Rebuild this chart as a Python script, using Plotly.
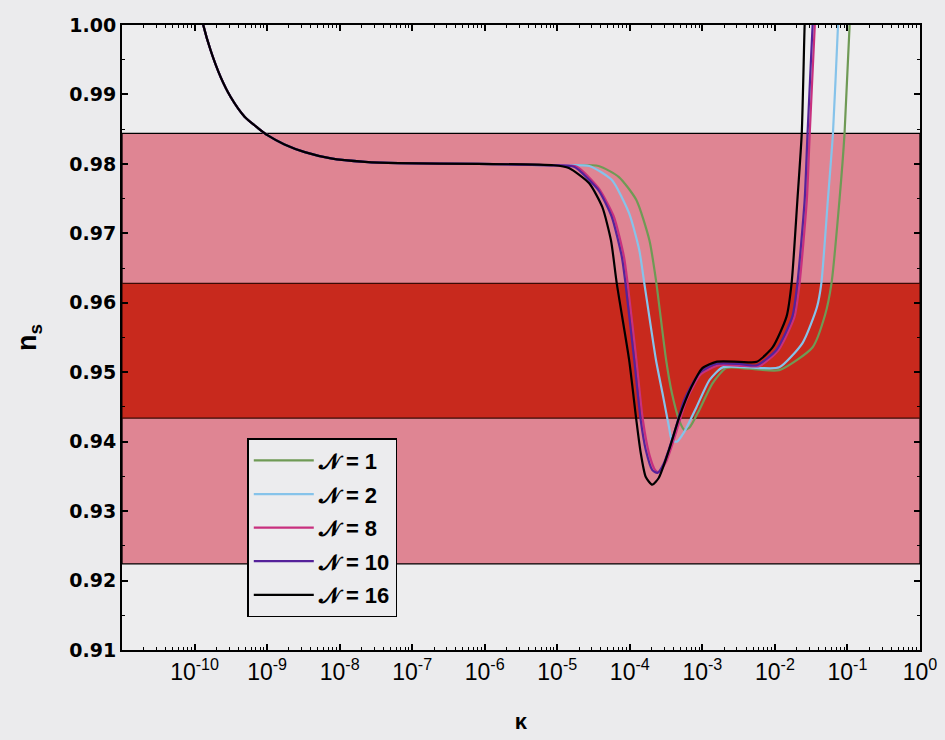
import numpy as np
import plotly.graph_objects as go

# ---- data (log10 kappa, n_s) ----
# common branch (all N coincide here, black is on top)
logk_common = [-9.90, -9.88, -9.78, -9.64, -9.50, -9.31, -9.13, -8.99, -8.76, -8.48, -8.12, -7.65, -7.19, -6.09, -5.05]
ns_common = [1.0010, 1.0000, 0.9964, 0.9925, 0.9896, 0.9868, 0.9852, 0.9841, 0.9828, 0.9817, 0.9808, 0.9803, 0.9801, 0.9800, 0.9798]

logk_N16 = [-4.84, -4.56, -4.38, -4.26, -4.18, -4.01, -3.91, -3.85, -3.78, -3.69, -3.60, -3.46, -3.32, -3.15,
            -3.00, -2.81, -2.49, -2.25, -2.03, -1.84, -1.77, -1.69, -1.63, -1.59, -1.58]
ns_N16 = [0.9794, 0.9772, 0.9738, 0.9690, 0.9628, 0.9518, 0.9431, 0.9384, 0.9349, 0.9338, 0.9348, 0.9388, 0.9435, 0.9479,
          0.9506, 0.9515, 0.9515, 0.9515, 0.9536, 0.9580, 0.9628, 0.9748, 0.9844, 1.0000, 1.0020]

logk_N10 = [-4.77, -4.70, -4.43, -4.25, -4.11, -4.06, -3.94, -3.85, -3.78, -3.69, -3.62, -3.53, -3.39, -3.25,
            -3.04, -2.81, -2.49, -2.25, -1.98, -1.76, -1.69, -1.59, -1.55, -1.48, -1.47]
ns_N10 = [0.9796, 0.9791, 0.9762, 0.9724, 0.9666, 0.9628, 0.9518, 0.9431, 0.9388, 0.9359, 0.9355, 0.9369, 0.9412, 0.9460,
          0.9499, 0.9512, 0.9512, 0.9510, 0.9532, 0.9580, 0.9628, 0.9748, 0.9844, 1.0000, 1.0020]

logk_N8 = [-4.73, -4.43, -4.22, -4.08, -4.03, -3.91, -3.82, -3.73, -3.65, -3.60, -3.50, -3.36, -3.22,
           -3.02, -2.77, -2.42, -2.21, -1.95, -1.73, -1.66, -1.56, -1.52, -1.45, -1.44]
ns_N8 = [0.9796, 0.9765, 0.9724, 0.9666, 0.9628, 0.9518, 0.9431, 0.9381, 0.9359, 0.9356, 0.9371, 0.9414, 0.9460,
         0.9497, 0.9510, 0.9509, 0.9509, 0.9532, 0.9580, 0.9628, 0.9748, 0.9844, 1.0000, 1.0020]

logk_N2 = [-4.56, -4.25, -4.01, -3.87, -3.80, -3.64, -3.55, -3.46, -3.42, -3.35, -3.25, -3.08, -2.90,
           -2.72, -2.21, -1.94, -1.62, -1.42, -1.36, -1.27, -1.20, -1.13, -1.12]
ns_N2 = [0.9797, 0.9777, 0.9729, 0.9676, 0.9628, 0.9518, 0.9470, 0.9421, 0.9402, 0.9400, 0.9414, 0.9450, 0.9489,
         0.9507, 0.9506, 0.9507, 0.9542, 0.9594, 0.9628, 0.9748, 0.9844, 1.0000, 1.0020]

logk_N1 = [-4.43, -4.15, -3.91, -3.73, -3.64, -3.50, -3.42, -3.32, -3.25, -3.18, -3.04, -2.86,
           -2.67, -2.35, -1.94, -1.48, -1.31, -1.22, -1.11, -1.04, -0.97, -0.95]
ns_N1 = [0.9797, 0.9781, 0.9748, 0.9690, 0.9633, 0.9518, 0.9470, 0.9431, 0.9417, 0.9420, 0.9446, 0.9484,
         0.9506, 0.9505, 0.9503, 0.9536, 0.9582, 0.9628, 0.9748, 0.9844, 1.0000, 1.0020]

series_names = ["\U0001D4A9 = 1", "\U0001D4A9 = 2", "\U0001D4A9 = 8", "\U0001D4A9 = 10", "\U0001D4A9 = 16"]
series_logk = [logk_N1, logk_N2, logk_N8, logk_N10, logk_N16]
series_ns = [ns_N1, ns_N2, ns_N8, ns_N10, ns_N16]
series_colors = ["#6f9a55", "#86c3ea", "#c8307e", "#55229a", "#000000"]

# observational bands (n_s)
band_outer = [0.9224, 0.9844]
band_inner = [0.9434, 0.9628]

x_tick_exponents = list(range(-10, 1))
y_ticks = [0.91, 0.92, 0.93, 0.94, 0.95, 0.96, 0.97, 0.98, 0.99, 1.00]

FONT = "Liberation Sans, Arial"

fig = go.Figure()

for i, (name, lk, ns, col) in enumerate(zip(series_names, series_logk, series_ns, series_colors)):
    x = 10 ** np.array(logk_common + lk)
    y = np.array(ns_common + ns)
    fig.add_trace(go.Scatter(x=x, y=y, mode="lines", name=name, legendgroup=f"g{i}",
                             line=dict(color=col, width=2.2, shape="spline", smoothing=0.6)))

# bands
fig.add_shape(type="rect", xref="paper", x0=0, x1=1, yref="y", y0=band_outer[0], y1=band_outer[1],
              fillcolor="#df8593", line=dict(color="black", width=1.3), layer="below")
fig.add_shape(type="rect", xref="paper", x0=0, x1=1, yref="y", y0=band_inner[0], y1=band_inner[1],
              fillcolor="#c8291d", line=dict(color="#3a0a05", width=1.3), layer="below")

minor_x = [m * 10.0 ** e for e in range(-11, 0) for m in range(2, 10)]

fig.update_xaxes(
    type="log", range=[-11.0, 0.0], automargin=False,
    tickmode="array",
    tickvals=[10.0 ** e for e in x_tick_exponents],
    ticktext=[f"10<sup>{e}</sup>" for e in x_tick_exponents],
    ticks="inside", ticklen=6, tickwidth=1.5, tickcolor="black",
    minor=dict(tickmode="array", tickvals=minor_x, ticks="inside", ticklen=3, tickcolor="black", tickwidth=1),
    showline=True, linecolor="black", linewidth=2, mirror="ticks",
    showgrid=False, zeroline=False,
    tickfont=dict(family=FONT, size=23, color="black"),
    title=dict(text="κ", font=dict(family=FONT, size=22, color="black", weight="bold"), standoff=30),
)
fig.update_yaxes(
    range=[0.91, 1.00], automargin=False,
    tickmode="array", tickvals=y_ticks, ticktext=[f"{v:.2f}" for v in y_ticks],
    ticks="inside", ticklen=6, tickwidth=1.5, tickcolor="black",
    minor=dict(dtick=0.005, ticks="inside", ticklen=3, tickcolor="black", tickwidth=1),
    showline=True, linecolor="black", linewidth=2, mirror="ticks",
    showgrid=False, zeroline=False,
    tickfont=dict(family="DejaVu Sans", size=19, color="black", weight="bold"),
    title=dict(text="n<sub>s</sub>", font=dict(family=FONT, size=27, color="black", weight="bold"),
               standoff=25),
)

fig.update_layout(
    width=945, height=740,
    margin=dict(l=122, r=25, t=25, b=90),
    paper_bgcolor="#ebebed", plot_bgcolor="#ededee",
    showlegend=True,
    legend=dict(x=0.157, y=0.339, xanchor="left", yanchor="top",
                bgcolor="#ececee", bordercolor="black", borderwidth=1.5,
                font=dict(family=FONT, size=22, color="black", weight="bold"),
                itemwidth=60, tracegroupgap=2),
)

fig.write_html("out.html")
